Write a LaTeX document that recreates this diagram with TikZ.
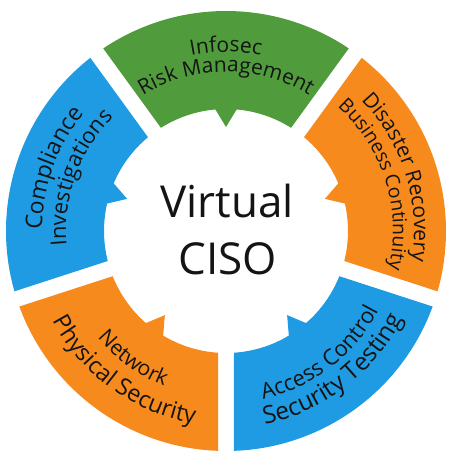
\documentclass[tikz,border=0pt]{standalone}
\usepackage{fontspec}
\setmainfont{Open Sans}
\usetikzlibrary{decorations.text}

\definecolor{segGreen}{RGB}{80,156,60}
\definecolor{segBlue}{RGB}{31,155,227}
\definecolor{segOrange}{RGB}{247,138,29}
\definecolor{labelInk}{RGB}{20,20,20}

% one piece of the ring, centred on angle #1, with its tooth
\newcommand{\ringpart}[2]{%
  \fill[#2] (#1-33.92:220) arc[start angle=#1-33.92, end angle=#1+33.92, radius=220]
    -- (#1+32.24:122) arc[start angle=#1+32.24, end angle=#1+5, radius=122]
    -- (#1:104) -- (#1-5:122)
    arc[start angle=#1-5, end angle=#1-32.24, radius=122] -- cycle;}

% text on an arc: start angle, end angle, radius, size, text
\newcommand{\arclabel}[5]{%
  \path[decorate, decoration={text along path, text align=center,
      text color=labelInk, text={|\fontsize{#4}{#4}\selectfont|#5}}]
    (#1:#3) arc[start angle=#1, end angle=#2, radius=#3];}

\begin{document}
\begin{tikzpicture}[x=1pt, y=1pt]
  \useasboundingbox (-226,-229) rectangle (224,231);
  \ringpart{90}{segGreen}
  \ringpart{18}{segOrange}
  \ringpart{306}{segBlue}
  \ringpart{234}{segOrange}
  \ringpart{162}{segBlue}

  \arclabel{150}{30}{179}{21}{Infosec}
  \arclabel{150}{30}{159}{21}{Risk Management}
  \arclabel{220}{100}{184}{23}{Compliance}
  \arclabel{220}{100}{160}{22}{Investigations}
  \arclabel{77.5}{-42.5}{188}{21}{Disaster Recovery}
  \arclabel{77.5}{-42.5}{167}{19.5}{Business Continuity}
  \arclabel{174}{294}{167}{21}{Network}
  \arclabel{174}{294}{195}{23.5}{Physical Security}
  \arclabel{247.5}{367.5}{172}{22}{Access Control}
  \arclabel{247.5}{367.5}{197}{24.5}{Security Testing}

  \node[anchor=base, text=labelInk, font=\fontsize{44}{44}\selectfont] (virtual) at (1,13) {Virtual};
  \node[anchor=base, text=labelInk, font=\fontsize{44}{44}\selectfont] (ciso) at (1.5,-43) {CISO};
\end{tikzpicture}
\end{document}
